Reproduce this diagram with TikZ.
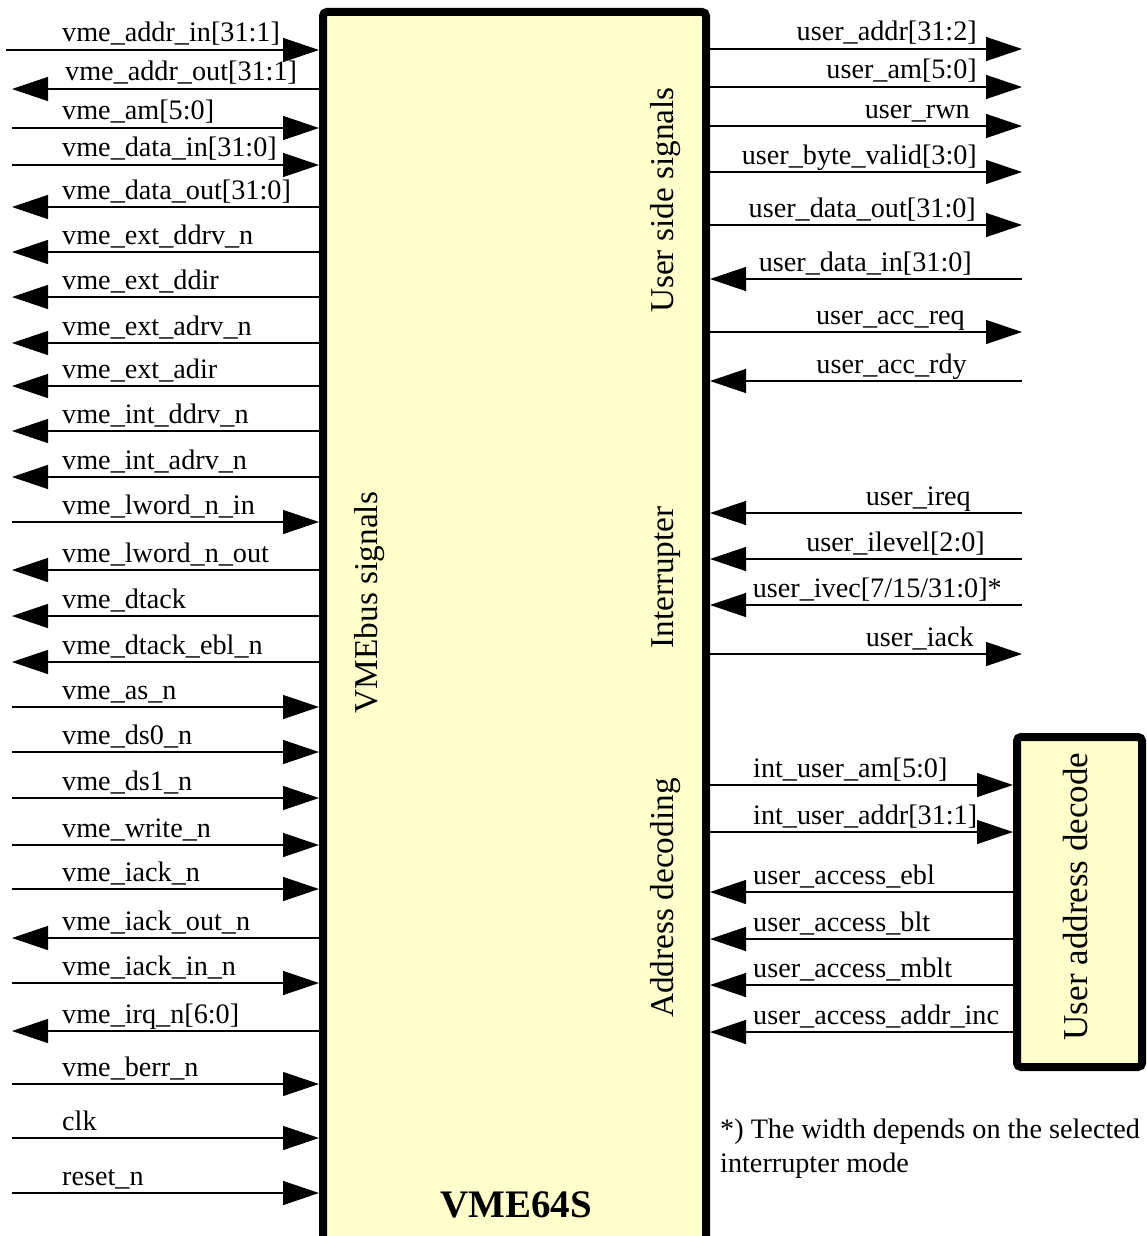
\documentclass[tikz,border=0pt]{standalone}
\usepackage{fontspec}
\setmainfont{Liberation Serif}
\usetikzlibrary{arrows.meta}
\definecolor{boxfill}{RGB}{255,255,204}
\tikzset{
  sig/.style={line width=1.3pt, draw=black},
  endtip/.style={sig, -{Triangle[length=36pt,width=24pt]}},
  starttip/.style={sig, {Triangle[length=36pt,width=24pt]}-},
  lbl/.style={inner sep=0pt, font=\fontsize{28.2pt}{34pt}\selectfont},
  vlbl/.style={inner sep=0pt, rotate=90, anchor=base, font=\fontsize{33.3pt}{40pt}\selectfont},
  blk/.style={draw=black, fill=boxfill, line width=8pt, rounded corners=4pt, inner sep=0pt},
}
\begin{document}
\begin{tikzpicture}[x=1pt,y=-1pt]
\useasboundingbox (0,0) rectangle (1146,1236);
\clip (0,0) rectangle (1146,1236);
% blocks
\node[blk, minimum width=383pt, minimum height=1233pt] (vme) at (514.5,628.5) {};
\node[blk, minimum width=125pt, minimum height=330pt] (dec) at (1079.5,902) {};
% block texts
\node[vlbl] (vmebus) at (377,602.5) {VMEbus signals};
\node[vlbl] (userside) at (673,200) {User side signals};
\node[vlbl] (intr) at (673,577.5) {Interrupter};
\node[vlbl] (adec) at (673,898) {Address decoding};
\node[vlbl, font=\fontsize{35pt}{42pt}\selectfont] (udec) at (1087,896.5) {User address decode};
\node[inner sep=0pt, anchor=base, font=\bfseries\fontsize{39pt}{44pt}\selectfont] (title) at (516,1217) {VME64S};
% left side signals
\foreach \y/\txt/\dir/\lx/\sx [count=\i] in {
  50/{vme\_addr\_in[31:1]}/endtip/62/6,
  89/{vme\_addr\_out[31:1]}/starttip/65/12,
  128/{vme\_am[5:0]}/endtip/62/12,
  165/{vme\_data\_in[31:0]}/endtip/62/12,
  207/{vme\_data\_out[31:0]}/starttip/62/12,
  252/{vme\_ext\_ddrv\_n}/starttip/62/12,
  297/{vme\_ext\_ddir}/starttip/62/12,
  343/{vme\_ext\_adrv\_n}/starttip/62/12,
  386/{vme\_ext\_adir}/starttip/62/12,
  431/{vme\_int\_ddrv\_n}/starttip/62/12,
  477/{vme\_int\_adrv\_n}/starttip/62/12,
  522/{vme\_lword\_n\_in}/endtip/62/12,
  570/{vme\_lword\_n\_out}/starttip/62/12,
  616/{vme\_dtack}/starttip/62/12,
  662/{vme\_dtack\_ebl\_n}/starttip/62/12,
  707/{vme\_as\_n}/endtip/62/12,
  752/{vme\_ds0\_n}/endtip/62/12,
  798/{vme\_ds1\_n}/endtip/62/12,
  845/{vme\_write\_n}/endtip/62/12,
  889/{vme\_iack\_n}/endtip/62/12,
  938/{vme\_iack\_out\_n}/starttip/62/12,
  983/{vme\_iack\_in\_n}/endtip/62/12,
  1031/{vme\_irq\_n[6:0]}/starttip/62/12,
  1084/{vme\_berr\_n}/endtip/62/12,
  1138/{clk}/endtip/62/12,
  1193/{reset\_n}/endtip/62/12}{
  \coordinate (l\i) at (\sx,\y);
  \draw[\dir] (l\i) -- (l\i -| vme.west);
  \node[lbl, anchor=base west] (lt\i) at (\lx,\y-8) {\txt};
}
% right side signals
\foreach \y/\txt/\dir/\ex [count=\i] in {
  49/{user\_addr[31:2]}/endtip/977,
  87/{user\_am[5:0]}/endtip/977,
  126/{user\_rwn}/endtip/970,
  172/{user\_byte\_valid[3:0]}/endtip/977,
  225/{user\_data\_out[31:0]}/endtip/976,
  279/{user\_data\_in[31:0]}/starttip/972,
  332/{user\_acc\_req}/endtip/965,
  381/{user\_acc\_rdy}/starttip/967,
  513/{user\_ireq}/starttip/971,
  559/{user\_ilevel[2:0]}/starttip/985,
  605/{user\_ivec[7/15/31:0]*}/starttip/1002,
  654/{user\_iack}/endtip/974}{
  \coordinate (r\i) at (1022,\y);
  \draw[\dir] (r\i -| vme.east) -- (r\i);
  \node[lbl, anchor=base east] (rt\i) at (\ex,\y-8) {\txt};
}
% address decoding signals
\foreach \y/\txt/\dir [count=\i] in {
  785/{int\_user\_am[5:0]}/endtip,
  832/{int\_user\_addr[31:1]}/endtip,
  892/{user\_access\_ebl}/starttip,
  939/{user\_access\_blt}/starttip,
  985/{user\_access\_mblt}/starttip,
  1032/{user\_access\_addr\_inc}/starttip}{
  \coordinate (a\i) at (860,\y);
  \draw[\dir] (a\i -| vme.east) -- (a\i -| dec.west);
  \node[lbl, anchor=base west] (at\i) at (753,\y-8) {\txt};
}
% footnote
\node[lbl, anchor=north west, align=left] (note) at (720,1119) {*) The width depends on the selected\\interrupter mode};
\end{tikzpicture}
\end{document}
